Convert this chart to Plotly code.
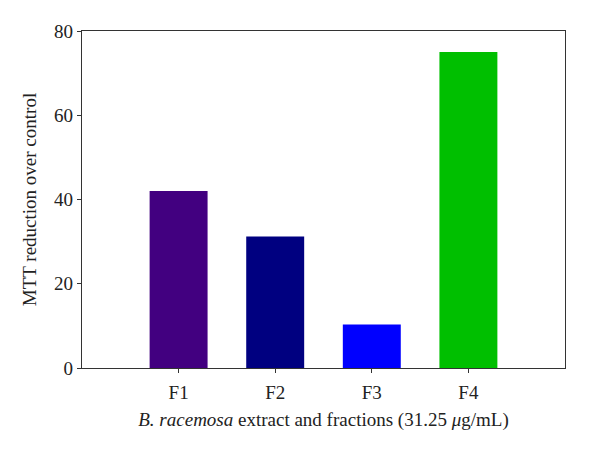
import plotly.graph_objects as go

categories = ["F1", "F2", "F3", "F4"]
values = [42, 31.2, 10.3, 75]
colors = ["#420080", "#000080", "#0000ff", "#00bf00"]
y_ticks = [0, 20, 40, 60, 80]

font_family = "Liberation Serif, Times New Roman, serif"

fig = go.Figure(go.Bar(x=list(range(len(categories))), y=values,
                       marker=dict(color=colors, line=dict(width=0)),
                       width=0.6))

fig.update_layout(
    width=600, height=452,
    margin=dict(l=74, r=43, t=23, b=92, autoexpand=False),
    plot_bgcolor="white", paper_bgcolor="white",
    showlegend=False,
    font=dict(family=font_family, size=19, color="#222222"),
)
fig.update_xaxes(
    range=[-1, 4], tickmode="array", tickvals=list(range(len(categories))), ticktext=categories,
    showline=True, linecolor="#333333", linewidth=1.2, mirror=True,
    ticks="outside", ticklen=4, tickcolor="#333333", showgrid=False, zeroline=False,
    tickfont=dict(size=19), ticklabelstandoff=3,
    title=dict(text="<i>B. racemosa</i> extract and fractions (31.25 <i>μ</i>g/mL)",
               font=dict(size=19), standoff=10),
)
fig.update_yaxes(
    range=[0, 80], tickvals=y_ticks,
    showline=True, linecolor="#333333", linewidth=1.2, mirror=True,
    ticks="outside", ticklen=4, tickcolor="#333333", showgrid=False, zeroline=False,
    tickfont=dict(size=19),
    title=dict(text="MTT reduction over control", font=dict(size=19), standoff=12),
)

fig.write_html("out.html")
